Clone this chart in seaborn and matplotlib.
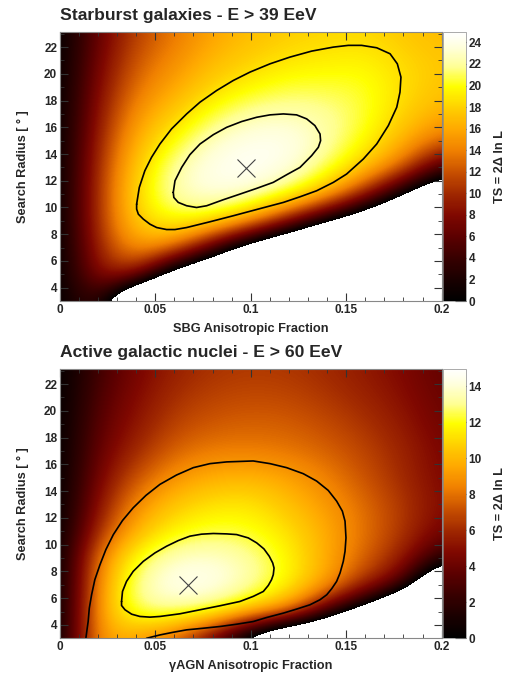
import numpy as np
import matplotlib
matplotlib.use("Agg")
import matplotlib.pyplot as plt
from matplotlib.colors import LinearSegmentedColormap
from matplotlib.ticker import MultipleLocator
import seaborn as sns

# grid of the TS maps (below-threshold cells are negative)
frac = [0.0, 0.02, 0.04, 0.06, 0.08, 0.10, 0.12, 0.14, 0.16, 0.18, 0.20]
radius = [3, 5, 7, 9, 11, 13, 15, 17, 19, 21, 23]

sbg_ts = [
    [0, 5.0, -12, -18, -24, -30, -35, -40, -45, -50, -55],
    [0, 8.8, 10, -3, -10, -18, -25, -30, -35, -40, -45],
    [0, 10.0, 15.5, 14, 6, -3, -10, -18, -22, -28, -33],
    [0, 10.8, 18.0, 20.0, 19.0, 15.5, 9, 1.5, -6, -14, -20],
    [0, 10.8, 18.6, 22.6, 23.8, 22.9, 20.5, 16.5, 10, 0.8, -8],
    [0, 10.5, 17.8, 22.2, 24.3, 24.9, 23.8, 21.0, 17.5, 13, 4.5],
    [0, 9.8, 16.5, 20.0, 23.0, 24.2, 24.3, 22.3, 19.8, 16.5, 13],
    [0, 9.0, 15.0, 17.8, 20.5, 22.3, 22.6, 22.0, 20.6, 18.0, 16.2],
    [0, 8.2, 13.5, 15.9, 18.3, 19.6, 20.6, 20.6, 20.4, 18.6, 17.3],
    [0, 7.4, 12.3, 14.6, 16.8, 18.0, 18.9, 19.2, 19.5, 18.3, 17.4],
    [0, 6.7, 11.3, 13.6, 15.8, 17.0, 17.8, 18.2, 18.3, 17.5, 16.8],
]

agn_ts = [
    [0, 9.6, 9.2, 7.5, 4.0, -2, -7, -8, -14, -20, -26],
    [0, 9.4, 12.9, 13.0, 12.3, 10.5, 8.9, 3.0, -1.2, -8, -15],
    [0, 9.0, 13.2, 14.8, 14.7, 13.4, 11.8, 9.3, 6.0, 3.5, -6],
    [0, 8.4, 12.2, 13.8, 14.0, 13.2, 11.8, 9.6, 7.6, 5.6, 1.8],
    [0, 6.3, 10.0, 11.8, 12.4, 12.2, 11.2, 9.6, 8.0, 6.4, 4.3],
    [0, 5.2, 8.8, 10.5, 11.3, 11.4, 10.3, 9.1, 7.8, 6.4, 4.8],
    [0, 4.5, 7.3, 9.0, 9.8, 10.0, 9.4, 8.4, 7.2, 6.0, 4.6],
    [0, 4.0, 6.0, 7.7, 8.3, 8.3, 8.1, 7.6, 6.8, 5.8, 4.5],
    [0, 3.6, 5.3, 6.8, 7.4, 7.6, 7.5, 7.0, 6.3, 5.4, 4.2],
    [0, 3.2, 4.9, 6.2, 6.8, 7.0, 6.9, 6.4, 5.8, 5.0, 4.0],
    [0, 2.8, 4.5, 5.7, 6.3, 6.5, 6.4, 6.0, 5.4, 4.7, 3.8],
]

# traced contours (1 and 2 sigma) and best fit points
sbg_inner_f = [0.0594, 0.0603, 0.0638, 0.0681, 0.0734, 0.0804, 0.0874, 0.0952, 0.1031, 0.1101,
               0.1171, 0.1240, 0.1293, 0.1336, 0.1363, 0.1366, 0.1354, 0.1319, 0.1258, 0.1188,
               0.1118, 0.1031, 0.0943, 0.0856, 0.0769, 0.0716, 0.0664, 0.0620, 0.0597, 0.0594]
sbg_inner_r = [11.13, 12.0, 13.0, 13.95, 14.75, 15.45, 16.0, 16.43, 16.75, 16.93,
               17.0, 16.93, 16.63, 16.13, 15.5, 15.0, 14.5, 13.88, 13.0, 12.45,
               11.88, 11.43, 11.0, 10.58, 10.13, 10.0, 10.13, 10.38, 10.75, 11.13]
sbg_outer_f = [0.0402, 0.0416, 0.0445, 0.0480, 0.0524, 0.0585, 0.0664, 0.0734, 0.0821, 0.0908,
               0.0996, 0.1101, 0.1205, 0.1319, 0.1433, 0.1511, 0.1581, 0.1660, 0.1730, 0.1768,
               0.1787, 0.1782, 0.1765, 0.1721, 0.1660, 0.1590, 0.1502, 0.1433, 0.1345, 0.1258,
               0.1171, 0.1039, 0.0908, 0.0786, 0.0664, 0.0603, 0.0559, 0.0507, 0.0472, 0.0437,
               0.0411, 0.0402, 0.0402]
sbg_outer_r = [10.25, 11.5, 12.75, 13.75, 14.75, 15.88, 17.0, 17.88, 18.75, 19.5,
               20.13, 20.75, 21.25, 21.7, 22.0, 22.13, 22.13, 21.95, 21.5, 20.75,
               19.75, 18.63, 17.5, 16.13, 14.75, 13.63, 12.5, 11.88, 11.25, 10.8,
               10.38, 9.88, 9.38, 8.93, 8.5, 8.35, 8.35, 8.5, 8.75, 9.13,
               9.5, 9.88, 10.25]
sbg_best = (0.0975, 12.95)

agn_inner_f = [0.0323, 0.0328, 0.0349, 0.0384, 0.0437, 0.0498, 0.0559, 0.0620, 0.0681, 0.0742,
               0.0804, 0.0874, 0.0926, 0.0987, 0.1031, 0.1069, 0.1097, 0.1115, 0.1122, 0.1118,
               0.1109, 0.1092, 0.1066, 0.1013, 0.0943, 0.0839, 0.0734, 0.0629, 0.0524, 0.0472,
               0.0419, 0.0376, 0.0341, 0.0323, 0.0323]
agn_inner_r = [5.75, 6.5, 7.25, 8.0, 8.75, 9.38, 9.88, 10.3, 10.63, 10.78,
               10.83, 10.8, 10.75, 10.5, 10.13, 9.68, 9.13, 8.63, 8.25, 7.75,
               7.38, 6.95, 6.5, 6.13, 5.75, 5.43, 5.13, 4.83, 4.63, 4.58,
               4.63, 4.8, 5.13, 5.45, 5.75]
agn_outer_f = [0.0136, 0.0143, 0.0148, 0.0154, 0.0166, 0.0183, 0.0210, 0.0241, 0.0280, 0.0328,
               0.0384, 0.0451, 0.0524, 0.0611, 0.0699, 0.0786, 0.0874, 0.1013, 0.1101, 0.1188,
               0.1275, 0.1345, 0.1406, 0.1450, 0.1480, 0.1494, 0.1499, 0.1494, 0.1485, 0.1468,
               0.1450, 0.1424, 0.1398, 0.1363, 0.1310, 0.1240, 0.1171, 0.1083, 0.1013, 0.0926,
               0.0839, 0.0751, 0.0664, 0.0594, 0.0524, 0.0454]
agn_outer_r = [3.0, 3.75, 4.25, 5.25, 6.25, 7.38, 8.5, 9.63, 10.75, 11.8,
               12.75, 13.68, 14.5, 15.2, 15.75, 16.05, 16.18, 16.25, 16.05, 15.75,
               15.3, 14.75, 14.05, 13.25, 12.5, 11.75, 10.5, 9.5, 8.75, 7.88,
               7.25, 6.7, 6.25, 5.88, 5.5, 5.18, 4.88, 4.55, 4.25, 4.05,
               3.88, 3.75, 3.63, 3.45, 3.25, 3.0]
agn_best = (0.0673, 6.95)

panels = [
    dict(title="Starburst galaxies - E > 39 EeV", xlabel="SBG Anisotropic Fraction",
         ts=sbg_ts, vmax=24.93, cticks=range(0, 25, 2),
         contours=[(sbg_inner_f, sbg_inner_r), (sbg_outer_f, sbg_outer_r)], best=sbg_best),
    dict(title="Active galactic nuclei - E > 60 EeV", xlabel="\u03b3AGN Anisotropic Fraction",
         ts=agn_ts, vmax=14.95, cticks=range(0, 15, 2),
         contours=[(agn_inner_f, agn_inner_r), (agn_outer_f, agn_outer_r)], best=agn_best),
]

sns.set_style("ticks")
plt.rcParams['font.family'] = ['Liberation Sans', 'DejaVu Sans']
plt.rcParams['font.weight'] = 'bold'

cmap = LinearSegmentedColormap.from_list("blackbody", [
    (0.0, "#000000"), (0.08, "#1a0000"), (0.16, "#380000"), (0.24, "#5c0000"),
    (0.32, "#800800"), (0.40, "#a02800"), (0.48, "#c85000"), (0.56, "#f08000"),
    (0.64, "#ffa800"), (0.72, "#ffd000"), (0.80, "#ffff00"), (0.87, "#ffff90"),
    (0.94, "#ffffd8"), (1.0, "#ffffff")])
cmap.set_under("white")

fig = plt.figure(figsize=(5.12, 6.75), dpi=100)
axes_pos = [[0.117, 0.554, 0.7455, 0.398], [0.117, 0.0544, 0.7455, 0.3985]]

df_ = 0.01
dr = 1.0
for p, pos in zip(panels, axes_pos):
    ax = fig.add_axes(pos)
    im = ax.imshow(np.array(p["ts"]), origin="lower", aspect="auto", cmap=cmap,
                   vmin=0, vmax=p["vmax"], interpolation="bicubic",
                   interpolation_stage="data",
                   extent=[frac[0] - df_, frac[-1] + df_, radius[0] - dr, radius[-1] + dr])
    for cf, cr in p["contours"]:
        sns.lineplot(x=cf, y=cr, sort=False, estimator=None, color="black",
                     linewidth=1.2, ax=ax)
    ax.plot(p["best"][0], p["best"][1], marker="x", markersize=13, mew=0.8,
            color="#444444", linestyle="none")
    ax.set_xlim(0, 0.2)
    ax.set_ylim(3, 23.1)
    ax.xaxis.set_minor_locator(MultipleLocator(0.01))
    ax.yaxis.set_minor_locator(MultipleLocator(1))
    ax.set_yticks(range(4, 23, 2))
    ax.set_xticks([0, 0.05, 0.1, 0.15, 0.2])
    ax.set_xticklabels(["0", "0.05", "0.1", "0.15", "0.2"])
    ax.tick_params(which="both", direction="in", top=True, right=True,
                   color="#333333", labelsize=8.5, pad=2)
    ax.tick_params(which="major", length=6)
    ax.tick_params(which="minor", length=3)
    for s in ax.spines.values():
        s.set_color("#888888")
        s.set_linewidth(0.8)
    ax.set_xlabel(p["xlabel"], fontsize=9.2, fontweight="bold", labelpad=5)
    ax.set_ylabel("Search Radius [ \u00b0 ]", fontsize=9.2, fontweight="bold", labelpad=11)
    ax.set_title(p["title"], loc="left", fontsize=12.6, fontweight="bold", pad=9)

    cax = fig.add_axes([pos[0] + pos[2] + 0.002, pos[1], 0.045, pos[3]])
    cb = fig.colorbar(im, cax=cax)
    cb.set_ticks(list(p["cticks"]))
    cb.outline.set_linewidth(0.5)
    cb.outline.set_edgecolor("#888888")
    cax.tick_params(direction="in", length=8, color="#222222", labelsize=8.5, pad=2)
    cb.set_label("TS = 2\u0394 ln L", fontsize=9.2, fontweight="bold", labelpad=9)

fig.savefig("out.png", dpi=100)
